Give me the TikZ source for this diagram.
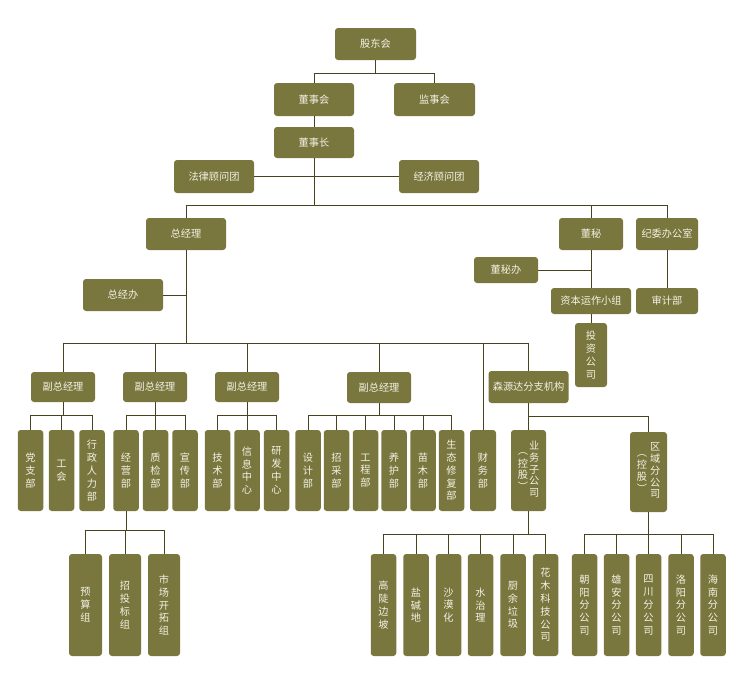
\documentclass[tikz,border=0pt]{standalone}
\usepackage{fontspec}
\setmainfont{Noto Sans CJK SC}
\definecolor{boxc}{HTML}{79763E}
\definecolor{linec}{HTML}{46431E}
\definecolor{txtc}{HTML}{F4F2E4}
\tikzset{
  org/.style={fill=boxc,rounded corners=3pt,text=txtc,inner sep=0pt,align=center,
    font=\fontsize{10.2}{12.8}\selectfont},
  bx/.style 2 args={org,minimum width=#1,minimum height=#2},
  conn/.style={draw=linec,line width=0.9pt},
}
\begin{document}
\begin{tikzpicture}[x=1pt,y=-1pt]
\useasboundingbox (0,0) rectangle (746,694);
% top levels
\node[bx={81}{32}] (gdh) at (375.5,44) {股东会};
\node[bx={80}{33}] (dsh) at (314,99.5) {董事会};
\node[bx={81}{33}] (jsh) at (434.5,99.5) {监事会};
\node[bx={80}{31}] (dsz) at (314,142.5) {董事长};
\node[bx={80}{33}] (flgw) at (214,176.5) {法律顾问团};
\node[bx={80}{33}] (jjgw) at (439,176.5) {经济顾问团};
\node[bx={80}{32}] (zjl) at (186,234) {总经理};
\node[bx={64}{32}] (dm) at (591,234) {董秘};
\node[bx={62}{32}] (jw) at (667,234) {纪委办公室};
\node[bx={64}{26}] (dmb) at (506,270) {董秘办};
\node[bx={80}{26}] (zb) at (591,301) {资本运作小组};
\node[bx={62}{26}] (sj) at (667,301) {审计部};
\node[bx={32}{64}] (tz) at (591,355) {投\\资\\公\\司};
\node[bx={80}{32}] (zjb) at (123,295) {总经办};
% row 4
\node[bx={64}{30}] (f1) at (63,387) {副总经理};
\node[bx={64}{30}] (f2) at (155,387) {副总经理};
\node[bx={64}{30}] (f3) at (247,387) {副总经理};
\node[bx={64}{31}] (f4) at (379,387.5) {副总经理};
\node[bx={80}{32}] (syd) at (528.5,387) {森源达分支机构};
% row 5
\node[bx={25.5}{81}] (dz) at (30.5,470.5) {党\\支\\部};
\node[bx={25.5}{81}] (gh) at (61.5,470.5) {工\\会};
\node[bx={25.5}{81}] (xz) at (92,470.5) {行\\政\\人\\力\\部};
\node[bx={25.5}{81}] (jy) at (126,470.5) {经\\营\\部};
\node[bx={25.5}{81}] (zj) at (155.5,470.5) {质\\检\\部};
\node[bx={25.5}{81}] (xc) at (185,470.5) {宣\\传\\部};
\node[bx={25.5}{81}] (js) at (217.5,470.5) {技\\术\\部};
\node[bx={25.5}{81}] (xx) at (247,470.5) {信\\息\\中\\心};
\node[bx={25.5}{81}] (yf) at (276.5,470.5) {研\\发\\中\\心};
\node[bx={25.5}{81}] (sjb) at (308,470.5) {设\\计\\部};
\node[bx={25.5}{81}] (zc) at (336.5,470.5) {招\\采\\部};
\node[bx={25.5}{81}] (gc) at (365.5,470.5) {工\\程\\部};
\node[bx={25.5}{81}] (yh) at (394,470.5) {养\\护\\部};
\node[bx={25.5}{81}] (mm) at (423,470.5) {苗\\木\\部};
\node[bx={25.5}{81}] (st) at (451.5,470.5) {生\\态\\修\\复\\部};
\node[bx={26}{81}] (cw) at (483,470.5) {财\\务\\部};
\node[bx={35}{81},font=\fontsize{10.2}{11.6}\selectfont] (ywz) at (528.5,470.5)
  {\begin{tabular}{@{}c@{\hspace{1pt}}c@{}}\begin{tabular}{@{}c@{}}︵\\控\\股\\︶\end{tabular}&\begin{tabular}{@{}c@{}}业\\务\\子\\公\\司\end{tabular}\end{tabular}};
\node[bx={37}{80},font=\fontsize{10.2}{11.6}\selectfont] (qy) at (648.5,472)
  {\begin{tabular}{@{}c@{\hspace{3pt}}c@{}}\begin{tabular}{@{}c@{}}︵\\控\\股\\︶\end{tabular}&\begin{tabular}{@{}c@{}}区\\域\\分\\公\\司\end{tabular}\end{tabular}};
% row 6
\node[bx={33}{102}] (ys) at (85.5,605) {预\\算\\组};
\node[bx={32}{102}] (ztb) at (125,605) {招\\投\\标\\组};
\node[bx={32}{102}] (sckt) at (164,605) {市\\场\\开\\拓\\组};
\node[bx={25.5}{102}] (gdbp) at (383.5,605) {高\\陡\\边\\坡};
\node[bx={25.5}{102}] (yjd) at (416,605) {盐\\碱\\地};
\node[bx={25.5}{102}] (smh) at (448.5,605) {沙\\漠\\化};
\node[bx={25.5}{102}] (szl) at (480.5,605) {水\\治\\理};
\node[bx={25.5}{102}] (cyls) at (513,605) {厨\\余\\垃\\圾};
\node[bx={25.5}{102}] (hmkj) at (545.5,605) {花\\木\\科\\技\\公\\司};
\node[bx={25.5}{102}] (cy) at (584.5,605) {朝\\阳\\分\\公\\司};
\node[bx={25.5}{102}] (xa) at (616.5,605) {雄\\安\\分\\公\\司};
\node[bx={25.5}{102}] (sc) at (648.5,605) {四\\川\\分\\公\\司};
\node[bx={25.5}{102}] (ly) at (681,605) {洛\\阳\\分\\公\\司};
\node[bx={25.5}{102}] (hn) at (713,605) {海\\南\\分\\公\\司};
% connectors
\draw[conn] (gdh.south) -- ++(0,13) coordinate (b1);
\draw[conn] (dsh.north) |- (b1) -| (jsh.north);
\draw[conn] (dsh.south) -- (dsz.north);
\draw[conn] (dsz.south) -- ++(0,47) coordinate (b2);
\draw[conn] (flgw.east) -- (jjgw.west);
\draw[conn] (zjl.north) |- (b2) -| (jw.north);
\draw[conn] (dm.north) -- (dm.north |- b2);
\draw[conn] (dm.south) -- (zb.north);
\draw[conn] (dmb.east) -- (dmb.east -| dm.south);
\draw[conn] (jw.south) -- (sj.north);
\draw[conn] (zb.south) -- (tz.north);
\draw[conn] (zjl.south) -- ++(0,93) coordinate (b3);
\draw[conn] (zjb.east) -- (zjb.east -| zjl.south);
\draw[conn] (f1.north) |- (b3) -| (syd.north);
\draw[conn] (f2.north) -- (f2.north |- b3);
\draw[conn] (f3.north) -- (f3.north |- b3);
\draw[conn] (f4.north) -- (f4.north |- b3);
\draw[conn] (cw.north) -- (cw.north |- b3);
% row 5 connectors
\draw[conn] (f1.south) -- ++(0,13) coordinate (c1);
\draw[conn] (dz.north) |- (c1) -| (xz.north);
\draw[conn] (gh.north) -- (gh.north |- c1);
\draw[conn] (f2.south) -- ++(0,13) coordinate (c2);
\draw[conn] (jy.north) |- (c2) -| (xc.north);
\draw[conn] (zj.north) -- (zj.north |- c2);
\draw[conn] (f3.south) -- ++(0,13) coordinate (c3);
\draw[conn] (js.north) |- (c3) -| (yf.north);
\draw[conn] (xx.north) -- (xx.north |- c3);
\draw[conn] (f4.south) -- ++(0,12) coordinate (c4);
\draw[conn] (sjb.north) |- (c4) -| (st.north);
\draw[conn] (zc.north) -- (zc.north |- c4);
\draw[conn] (gc.north) -- (gc.north |- c4);
\draw[conn] (yh.north) -- (yh.north |- c4);
\draw[conn] (mm.north) -- (mm.north |- c4);
\draw[conn] (syd.south) -- ++(0,13) coordinate (c5);
\draw[conn] (ywz.north) -- (c5) -| (qy.north);
% row 6 connectors
\draw[conn] (jy.south) -- ++(0,19) coordinate (d1);
\draw[conn] (ys.north) |- (d1) -| (sckt.north);
\draw[conn] (ztb.north) -- (ztb.north |- d1);
\draw[conn] (ywz.south) -- ++(0,23) coordinate (d2);
\draw[conn] (gdbp.north) |- (d2) -| (hmkj.north);
\draw[conn] (yjd.north) -- (yjd.north |- d2);
\draw[conn] (smh.north) -- (smh.north |- d2);
\draw[conn] (szl.north) -- (szl.north |- d2);
\draw[conn] (cyls.north) -- (cyls.north |- d2);
\draw[conn] (qy.south) -- ++(0,22) coordinate (d3);
\draw[conn] (cy.north) |- (d3) -| (hn.north);
\draw[conn] (xa.north) -- (xa.north |- d3);
\draw[conn] (sc.north) -- (sc.north |- d3);
\draw[conn] (ly.north) -- (ly.north |- d3);
\end{tikzpicture}
\end{document}
